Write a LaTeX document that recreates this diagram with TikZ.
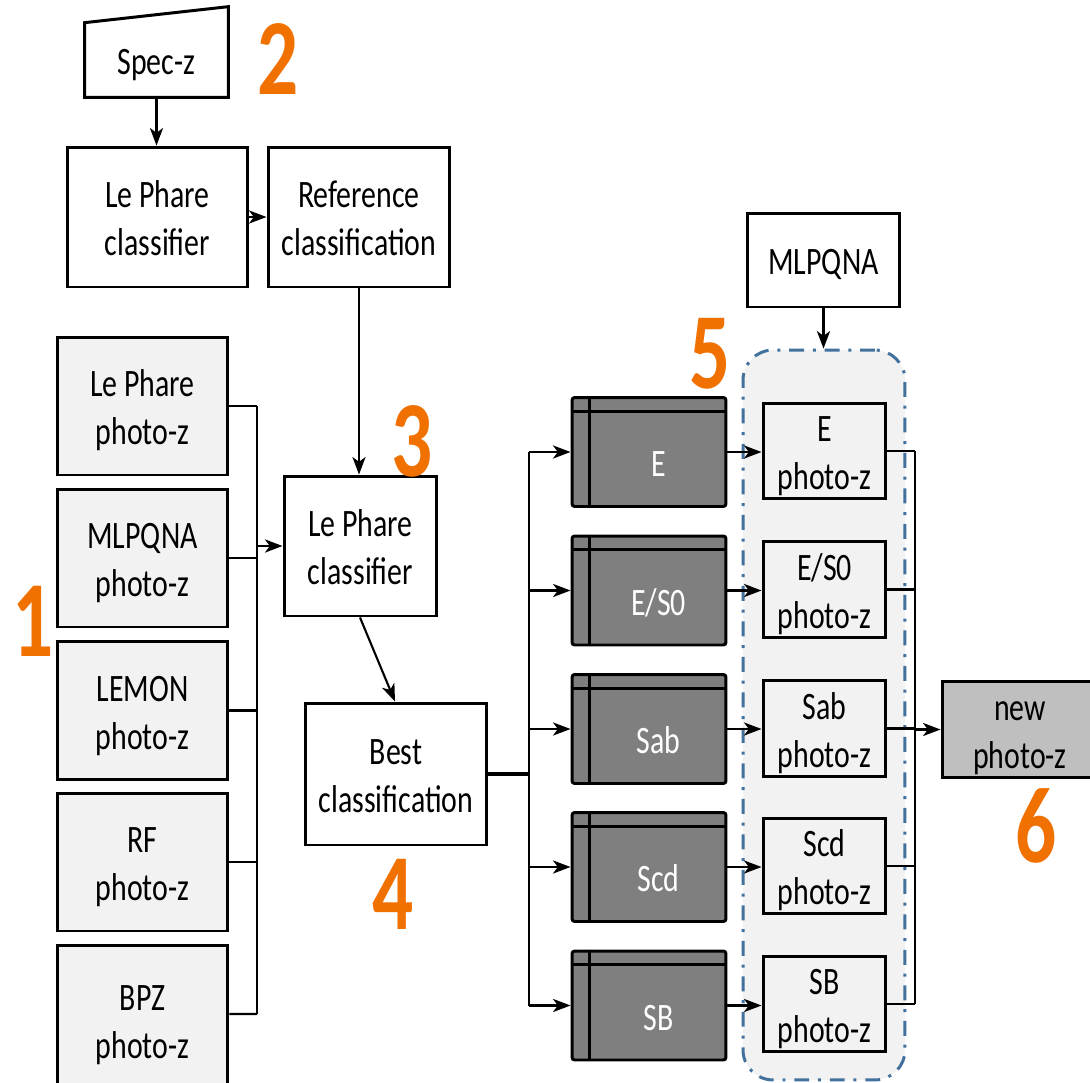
\documentclass[tikz,border=0pt]{standalone}
\usepackage{fontspec}
\setmainfont{Carlito}
\usetikzlibrary{arrows.meta,positioning,calc}
\definecolor{lightbox}{HTML}{F2F2F2}
\definecolor{darkbox}{HTML}{7F7F7F}
\definecolor{newbox}{HTML}{BFBFBF}
\definecolor{grpblue}{HTML}{41719C}
\definecolor{numorange}{RGB}{240,112,0}
\newcommand\vtx[1]{\raisebox{-0.1cm}[\height][\depth]{\scalebox{1}[1.3]{\begin{tabular}{@{}c@{}}#1\end{tabular}}}}
\newcommand\dkx[1]{\raisebox{-0.2cm}[\height][\depth]{\hspace*{0.38cm}\vtx{#1}}}
\newcommand\numx[1]{\scalebox{1.05}[1.4]{\fontsize{44}{44}\selectfont\bfseries #1}}
\begin{document}
\begin{tikzpicture}[x=0.02cm,y=-0.02cm,
  font=\fontsize{17}{21}\selectfont,
  box/.style={draw=black,line width=1.7pt,inner sep=0pt,fill=white},
  lbox/.style={box,fill=lightbox,minimum width=3.42cm,minimum height=2.76cm},
  dbox/.style={box,fill=darkbox,text=white,minimum width=3.08cm,minimum height=2.18cm,rounded corners=1.5pt},
  pbox/.style={box,fill=lightbox,minimum width=2.46cm,minimum height=1.84cm},
  conn/.style={line width=1.2pt},
  bus/.style={line width=1.7pt},
  arr/.style={line width=1.2pt,-{Stealth[length=10pt,width=7.5pt,inset=2.8pt]}},
  num/.style={text=numorange,inner sep=0pt},
  grp/.style={draw=grpblue,fill=lightbox,line width=1.7pt,rounded corners=0.6cm,
    dash pattern=on 8.5pt off 5pt on 1.7pt off 5pt,inner sep=0pt}
]
\useasboundingbox (0,0) rectangle (1090,1083);
\fill[white] (0,0) rectangle (1090,1083);

% top part
\coordinate (spc) at (156.5,60);
\node[inner sep=0pt,minimum width=2.86cm,minimum height=1.48cm] (specz) at (spc) {};
\draw[box] (specz.south west) -- (specz.north west) -- ([yshift=0.32cm]specz.north east) -- (specz.south east) -- cycle;
\node[inner sep=0pt] (spectext) at (specz.center) {\vtx{Spec-z}};
\node[box,minimum width=3.62cm,minimum height=2.8cm] (lp1) at (157.5,217) {\vtx{Le Phare\\classifier}};
\node[box,minimum width=3.64cm,minimum height=2.8cm] (ref) at (359,217) {\vtx{Reference\\classification}};

% left column
\node[lbox] (lb1) at (142.5,406) {\vtx{Le Phare\\photo-z}};
\node[lbox] (lb2) at (142.5,558) {\vtx{MLPQNA\\photo-z}};
\node[lbox] (lb3) at (142.5,710.5) {\vtx{LEMON\\photo-z}};
\node[lbox] (lb4) at (142.5,862) {\vtx{RF\\photo-z}};
\node[lbox,minimum height=3cm] (lb5) at (142.5,1020) {\vtx{BPZ\\photo-z}};

% middle
\node[box,minimum width=3.06cm,minimum height=2.8cm] (lp2) at (360.5,546) {\vtx{Le Phare\\classifier}};
\node[box,minimum width=3.64cm,minimum height=2.84cm] (best) at (396,774) {\vtx{Best\\classification}};

% dark boxes
\node[dbox] (d1) at (649,452) {\dkx{E}};
\node[dbox] (d2) at (649,590.5) {\dkx{E/S0}};
\node[dbox] (d3) at (649,729) {\dkx{Sab}};
\node[dbox] (d4) at (649,867) {\dkx{Scd}};
\node[dbox] (d5) at (649,1005.5) {\dkx{SB}};
\foreach \d in {d1,d2,d3,d4,d5}{
  \draw[line width=1.7pt] ([yshift=-0.3cm]\d.north west) -- ([yshift=-0.3cm]\d.north east);
  \draw[line width=1.7pt] ([xshift=0.38cm]\d.north west) -- ([xshift=0.38cm]\d.south west);
}

% group and photo-z boxes
\node[box,minimum width=3.06cm,minimum height=1.88cm] (mlp) at (823.5,260) {\vtx{MLPQNA}};
\node[grp,minimum width=3.24cm,minimum height=14.6cm] (grp) at (824,715) {};
\node[pbox] (p1) at (824.5,451) {\vtx{E\\photo-z}};
\node[pbox] (p2) at (824.5,589.5) {\vtx{E/S0\\photo-z}};
\node[pbox] (p3) at (824.5,728.5) {\vtx{Sab\\photo-z}};
\node[pbox] (p4) at (824.5,866) {\vtx{Scd\\photo-z}};
\node[pbox] (p5) at (824.5,1004) {\vtx{SB\\photo-z}};

\node[box,fill=newbox,minimum width=3.12cm,minimum height=1.9cm] (new) at (1020,729.5) {\vtx{new\\photo-z}};

% numbers
\node[num] (n2) at (278,59) {\numx{2}};
\node[num] (n3) at (412,441) {\numx{3}};
\node[num] (n5) at (710,354) {\numx{5}};
\node[num] (n1) at (33,621) {\numx{1}};
\node[num] (n4) at (393,894) {\numx{4}};
\node[num] (n6) at (1036,826) {\numx{6}};

% connectors top
\draw[arr] (specz.south) -- (specz.south |- lp1.north);
\draw[arr] (lp1.east) -- (ref.west);
\draw[arr] (ref.south) -- (ref.south |- lp2.north);

% left bus
\coordinate (bLt) at (257,406);
\coordinate (bLb) at (257,1014);
\draw[conn] (lb1.east) -- (lb1.east -| bLt);
\draw[conn] (lb2.east) -- (lb2.east -| bLt);
\draw[conn] (lb3.east) -- (lb3.east -| bLt);
\draw[conn] (lb4.east) -- (lb4.east -| bLt);
\draw[conn] ([yshift=0.12cm]lb5.east) -- (bLb);
\draw[bus] (bLt) -- (bLb);
\draw[arr] (lp2.west -| bLt) -- (lp2.west);

% lp2 to best
\draw[arr] ([xshift=-0.01cm]lp2.south) -- ([xshift=-0.02cm]best.north);

% middle bus
\coordinate (bM) at (529,0);
\draw[line width=2pt] (best.east) -- (best.east -| bM);
\draw[bus] (d1.west -| bM) -- (d5.west -| bM);
\foreach \d in {d1,d2,d3,d4,d5}{
  \draw[arr] (\d.west -| bM) -- (\d.west);
}

% dark to photo-z
\draw[arr] (d1.east) -- (d1.east -| p1.west);
\draw[arr] (d2.east) -- (d2.east -| p2.west);
\draw[arr] (d3.east) -- (d3.east -| p3.west);
\draw[arr] (d4.east) -- (d4.east -| p4.west);
\draw[arr] (d5.east) -- (d5.east -| p5.west);

% mlpqna to group
\draw[arr] (mlp.south) -- (mlp.south |- grp.north);

% right bus
\coordinate (bR) at (915,0);
\foreach \p in {p1,p2,p3,p4,p5}{
  \draw[conn] (\p.east) -- (\p.east -| bR);
}
\draw[bus] (p1.east -| bR) -- (p5.east -| bR);
\draw[arr] (new.west -| bR) -- (new.west);
\end{tikzpicture}
\end{document}
